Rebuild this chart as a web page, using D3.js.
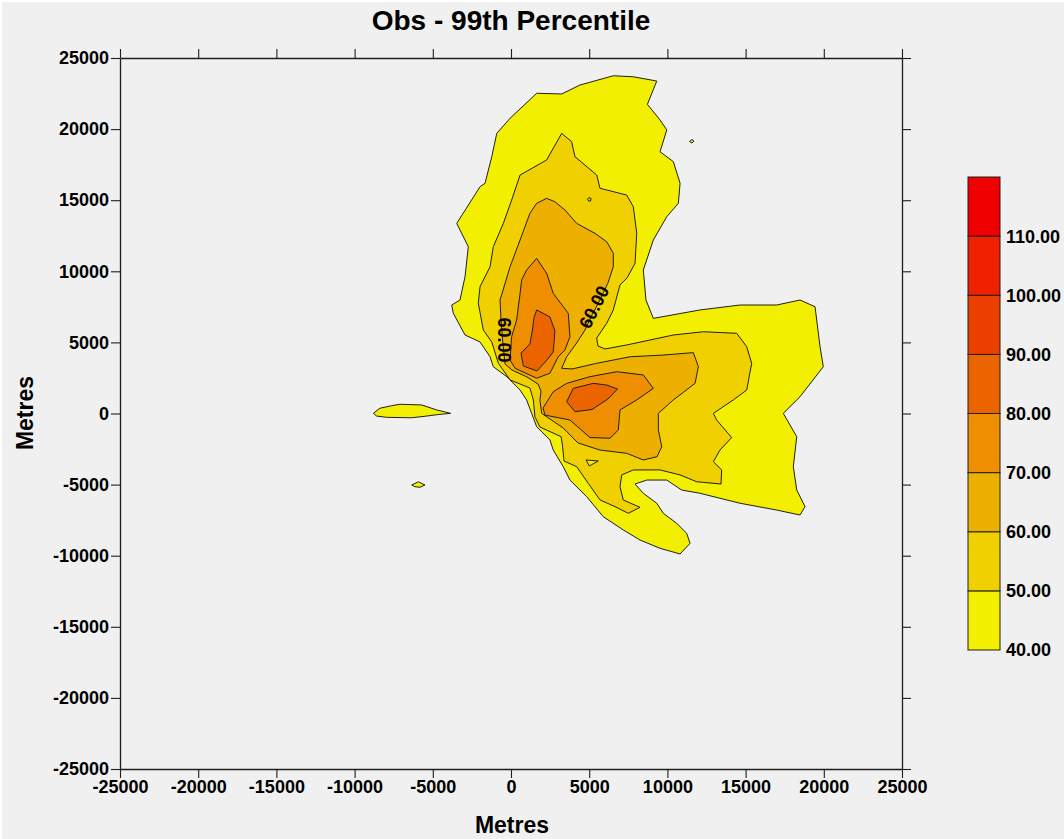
<!DOCTYPE html>
<html><head><meta charset="utf-8">
<script src="https://cdn.jsdelivr.net/npm/d3@7"></script>
<style>html,body{margin:0;padding:0;background:#ffffff;overflow:hidden}</style>
</head><body>
<svg id="chart" width="1064" height="839"></svg>
<script>
// ---------------- data (metres) ----------------
const contourLevels = [40, 50, 60, 70, 80, 90, 100, 110, 120];
const legendLabels = [40, 50, 60, 70, 80, 90, 100, 110];
const axisTicks = [-25000, -20000, -15000, -10000, -5000, 0, 5000, 10000, 15000, 20000, 25000];

// 40 contour – main body
const band40Main = [[1640,22520],[3240,22470],[4410,23100],[6540,23750],[7820,23680],[9320,23380],[8720,21740],[9530,20640],[9960,19940],[9530,18410],[10380,17710],[10810,16190],[10700,14780],[9960,13840],[9100,12200],[8460,10090],[8630,7980],[9100,6690],[12080,7280],[14640,7630],[16990,7630],[18480,7980],[19440,7510],[19760,4700],[19970,3290],[18480,1180],[17410,10],[18270,-1630],[18050,-3740],[18270,-5380],[18800,-6550],[18480,-7140],[16990,-6790],[14640,-6310],[13360,-5960],[12080,-5610],[10910,-5380],[9960,-4680],[8680,-4680],[7930,-4960],[8460,-5610],[9320,-6310],[9740,-7020],[10590,-7720],[11230,-8420],[11450,-9130],[10810,-9880],[9530,-9480],[8250,-8900],[7180,-8190],[5900,-7260],[4840,-5850],[3770,-4680],[3340,-3740],[2700,-2570],[2490,-1860],[1640,-930],[1320,10],[1000,950],[580,1650],[-270,2590],[-1130,3290],[-1340,3990],[-1980,5030],[-2940,5520],[-3690,7050],[-3790,7630],[-3260,7980],[-2940,9620],[-2730,11730],[-3470,13370],[-1980,15950],[-1660,16190],[-1230,18060],[-910,19700],[-60,20760]];
// 40 contour – small islands
const band40West = [[-8800,10],[-8380,370],[-7630,550],[-7100,650],[-5710,600],[-4750,250],[-3860,10],[-4540,-60],[-5390,-180],[-6350,-300],[-7950,-270],[-8590,-180]];
const band40SouthWest = [[-6350,-5030],[-5930,-4800],[-5500,-5030],[-5820,-5190],[-6140,-5150]];
const band40North = [[11410,19130],[11570,19270],[11700,19160],[11570,19020]];
const band40Hole = [[4800,-3270],[5580,-3340],[5010,-3690]];
// 50 contour
const band50 = [[3240,19700],[3880,19110],[4090,18060],[5480,16770],[5690,15840],[7400,15360],[7820,14540],[8040,12670],[7930,10560],[7420,9530],[6970,9040],[6540,7280],[6120,6340],[5480,5310],[5560,4750],[6010,4540],[7400,4820],[10380,5520],[12300,5750],[14430,5640],[15070,4700],[15390,3530],[15070,1650],[14210,950],[12940,10],[13150,-460],[14110,-1690],[13360,-2570],[12940,-3390],[13470,-3970],[13430,-4960],[11870,-4800],[10810,-4320],[9530,-3970],[7820,-3970],[7080,-4320],[6970,-5150],[7180,-6080],[8250,-6600],[7500,-7020],[6650,-6550],[5690,-6080],[4940,-4910],[4200,-3740],[3390,-3340],[3290,-2220],[3200,-1630],[1850,-950],[1530,-230],[1430,950],[1210,1790],[-60,2360],[-810,3530],[-1230,5030],[-1770,5870],[-2090,7750],[-1980,8920],[-1340,10320],[-1130,11730],[-490,13370],[40,15010],[580,16770],[2280,17830]];
const band50Speck = [[4890,15080],[4990,15190],[5120,15120],[5080,14940],[4960,14940]];
// 60 contour
const band60 = [[2280,15130],[2810,14890],[3450,14310],[4200,13370],[5370,12670],[6120,12080],[6540,11270],[6540,10320],[6200,9180],[5690,7980],[5180,6930],[4730,5870],[4200,4960],[3560,3990],[3240,3180],[3900,3130],[5480,3530],[7610,3990],[9740,4110],[11660,4280],[11980,3290],[11770,2120],[10380,950],[9420,10],[9420,-1160],[9640,-2330],[9340,-3040],[8460,-3270],[7400,-2800],[5690,-2570],[4280,-2070],[3340,-1020],[1960,10],[1850,950],[1920,1580],[1730,2070],[1020,2570],[60,3060],[-380,3480],[-510,4820],[-640,6580],[-700,7980],[-60,10320],[580,12200],[1210,14080],[1640,14780]];
// 70 contour
const band70North = [[1640,10910],[2280,9860],[2700,8450],[3660,7050],[3770,5400],[3450,4470],[3020,3990],[2490,2830],[1640,2480],[260,3180],[-60,3760],[40,5400],[360,6580],[580,8450],[680,9390],[1000,10090]];
const band70South = [[9100,1770],[8040,950],[6970,250],[6860,-1160],[6330,-1740],[5050,-1690],[3770,-460],[2170,-110],[2050,390],[2700,1530],[3560,2120],[5050,2590],[6760,2940],[8460,2710]];
// 80 contour
const band80North = [[1640,7280],[2490,6790],[2810,5800],[2700,4320],[2240,3690],[1660,2990],[790,3340],[640,4250],[1210,4890],[1370,5870],[1470,6720]];
const band80South = [[3980,1770],[5260,2120],[6120,2000],[6810,1720],[6200,1020],[5180,280],[4090,130],[3560,830]];

// contour labels
const contourLabelText = ["60.00", "60.00"];
const contourLabelAt = [[-450, 5170], [5310, 7490]];
const contourLabelAngle = [90, -63];

const levelColors = ["#f2f000", "#f0d000", "#eeb000", "#ee8e00", "#ec6400", "#ec4000", "#f02000", "#f00000"];

// ---------------- drawing ----------------
const W = 1064, H = 839;
const plot = {left: 120, right: 902, top: 58, bottom: 769};
const FONT = "'Liberation Sans', Arial, Helvetica, sans-serif";
const svg = d3.select("#chart");

svg.append("rect").attr("x", 2).attr("y", 2).attr("width", W - 2).attr("height", H - 2).attr("fill", "#f0f0f0");

const x = d3.scaleLinear().domain([-25000, 25000]).range([plot.left, plot.right]);
const y = d3.scaleLinear().domain([-25000, 25000]).range([plot.bottom, plot.top]);
const colorOf = lvl => levelColors[contourLevels.indexOf(lvl)];

const regions = [
  {level: 40, pts: band40Main},
  {level: 40, pts: band40West},
  {level: 40, pts: band40SouthWest},
  {level: 40, pts: band40North},
  {level: 50, pts: band50},
  {level: 40, pts: band40Hole},
  {level: 50, pts: band50Speck},
  {level: 60, pts: band60},
  {level: 70, pts: band70North},
  {level: 70, pts: band70South},
  {level: 80, pts: band80North},
  {level: 80, pts: band80South}
];

const line = d3.line().x(d => x(d[0])).y(d => y(d[1])).curve(d3.curveLinearClosed);

svg.append("g").selectAll("path").data(regions).join("path")
  .attr("d", d => line(d.pts))
  .attr("fill", d => colorOf(d.level))
  .attr("stroke", "#1e1e1e")
  .attr("stroke-width", 1)
  .attr("stroke-linejoin", "round");

svg.append("g").selectAll("text").data(contourLabelText).join("text")
  .attr("transform", (d, i) => `translate(${x(contourLabelAt[i][0])},${y(contourLabelAt[i][1])}) rotate(${contourLabelAngle[i]})`)
  .attr("text-anchor", "middle")
  .attr("dy", "0.35em")
  .attr("font-family", FONT).attr("font-weight", "bold").attr("font-size", 18)
  .attr("fill", "#000")
  .text(d => d);

// axes
function styleAxis(g) {
  g.selectAll("path.domain").attr("stroke", "#1e1e1e").attr("stroke-width", 1.3);
  g.selectAll(".tick line").attr("stroke", "#1e1e1e").attr("stroke-width", 1.1);
  g.selectAll("text").attr("font-family", FONT).attr("font-weight", "bold").attr("font-size", 18).attr("fill", "#000");
}
svg.append("g").attr("transform", `translate(0,${plot.bottom})`)
  .call(d3.axisBottom(x).tickValues(axisTicks).tickSize(9).tickSizeOuter(0).tickPadding(2).tickFormat(d3.format("d")))
  .call(styleAxis);
svg.append("g").attr("transform", `translate(${plot.left},0)`)
  .call(d3.axisLeft(y).tickValues(axisTicks).tickSize(9).tickSizeOuter(0).tickPadding(2).tickFormat(d3.format("d")))
  .call(styleAxis);
svg.append("g").attr("transform", `translate(0,${plot.top})`)
  .call(d3.axisTop(x).tickValues(axisTicks).tickSize(9).tickSizeOuter(0).tickFormat(""))
  .call(styleAxis);
svg.append("g").attr("transform", `translate(${plot.right},0)`)
  .call(d3.axisRight(y).tickValues(axisTicks).tickSize(9).tickSizeOuter(0).tickFormat(""))
  .call(styleAxis);
svg.selectAll("g text").filter(function(){ return this.textContent.startsWith("−"); }).text(function(){ return this.textContent.replace("−", "-"); });

// titles
svg.append("text").attr("x", 511).attr("y", 30).attr("text-anchor", "middle")
  .attr("font-family", FONT).attr("font-weight", "bold").attr("font-size", 28).text("Obs - 99th Percentile");
svg.append("text").attr("x", 512).attr("y", 833).attr("text-anchor", "middle")
  .attr("font-family", FONT).attr("font-weight", "bold").attr("font-size", 23).text("Metres");
svg.append("text").attr("transform", "translate(33,413) rotate(-90)").attr("text-anchor", "middle")
  .attr("font-family", FONT).attr("font-weight", "bold").attr("font-size", 23).text("Metres");

// legend
const ly = d3.scaleLinear().domain([40, 120]).range([650, 177]);
const bands = d3.range(levelColors.length).map(i => ({lo: contourLevels[i], hi: contourLevels[i + 1], c: levelColors[i]}));
const lg = svg.append("g");
lg.selectAll("rect").data(bands).join("rect")
  .attr("x", 968).attr("width", 32)
  .attr("y", d => ly(d.hi)).attr("height", d => ly(d.lo) - ly(d.hi))
  .attr("fill", d => d.c).attr("stroke", "#1e1e1e").attr("stroke-width", 1);
lg.selectAll("text").data(legendLabels).join("text")
  .attr("x", 1006).attr("y", d => ly(d)).attr("dy", "0.36em")
  .attr("font-family", FONT).attr("font-weight", "bold").attr("font-size", 18)
  .text(d => d3.format(".2f")(d));
</script>
</body></html>
